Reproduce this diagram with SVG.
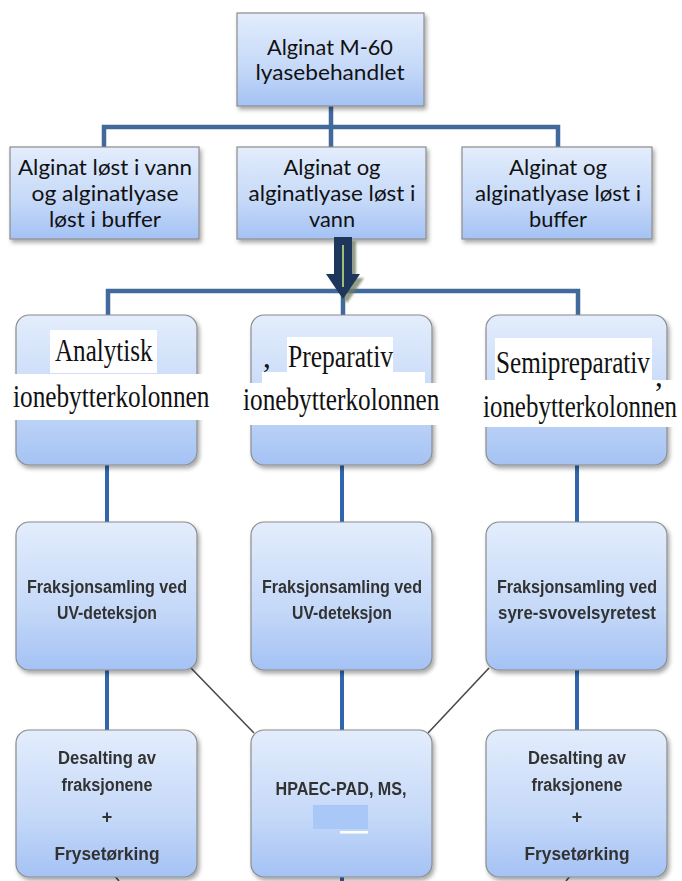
<svg xmlns="http://www.w3.org/2000/svg" width="682" height="881" viewBox="0 0 682 881">
  <defs>
    <linearGradient id="boxFill" x1="0" y1="0" x2="0" y2="1">
      <stop offset="0" stop-color="#e3edfc"/>
      <stop offset="0.6" stop-color="#c4d8f8"/>
      <stop offset="1" stop-color="#a4c2f4"/>
    </linearGradient>
    <filter id="shadow" x="-10%" y="-10%" width="125%" height="125%">
      <feDropShadow dx="2" dy="3" stdDeviation="2" flood-color="#000" flood-opacity="0.35"/>
    </filter>
    <filter id="soft" x="-5%" y="-20%" width="110%" height="140%">
      <feGaussianBlur stdDeviation="0.45"/>
    </filter>
    <filter id="arrowShadow" x="-30%" y="-30%" width="160%" height="160%">
      <feGaussianBlur stdDeviation="1.2"/>
    </filter>
  </defs>
  <style>
    .box { fill: url(#boxFill); stroke: #8c8c8c; stroke-width: 1.2; filter: url(#shadow); }
    .lbl { font-family: Lato, "Liberation Sans", sans-serif; font-size: 21px; fill: #111; text-anchor: middle; }
    .col { font-family: "Liberation Serif", serif; font-size: 31px; fill: #111; }
    .small { font-family: "Liberation Sans", sans-serif; font-size: 18px; font-weight: bold; fill: #333; text-anchor: middle; filter: url(#soft); }
    .tree { fill: none; stroke: #41699b; stroke-width: 4.5; }
    .vline { fill: none; stroke: #2f66ad; stroke-width: 4; }
    .diag { fill: none; stroke: #4a4a4a; stroke-width: 1.6; }
    .white { fill: #fff; }
  </style>

  <!-- connectors -->
  <g id="connectors">
    <path class="tree" d="M331 106 V147 M104 147 V127 H558 V147"/>
    <path class="tree" d="M108 315 V291 H578 V315 M343 291 V315" stroke="#3d6da8"/>
    <path class="vline" d="M107 465 V522 M342 465 V522 M577 465 V522"/>
    <path class="vline" d="M107 670 V730 M342 670 V730 M577 670 V730"/>
    <path class="diag" d="M190 667 L254 733 M489 668 L428 733"/>
    <path class="diag" d="M113 874 L119 881 M571 875 L566 881"/>
    <path class="vline" d="M342 877 V881" stroke-width="2"/>
  </g>

  <!-- level 1 -->
  <g id="n-top">
    <rect class="box" x="237" y="13" width="187" height="93"/>
    <text class="lbl" x="330" y="55" font-size="22" textLength="126" lengthAdjust="spacingAndGlyphs">Alginat M-60</text>
    <text class="lbl" x="330" y="80" font-size="22" textLength="149" lengthAdjust="spacingAndGlyphs">lyasebehandlet</text>
  </g>

  <!-- level 2 -->
  <g id="n-vann-buffer">
    <rect class="box" x="10" y="147" width="189" height="92"/>
    <text class="lbl" x="105" y="175" textLength="174" lengthAdjust="spacingAndGlyphs">Alginat løst i vann</text>
    <text class="lbl" x="105" y="201" textLength="147" lengthAdjust="spacingAndGlyphs">og alginatlyase</text>
    <text class="lbl" x="105" y="227" textLength="112" lengthAdjust="spacingAndGlyphs">løst i buffer</text>
  </g>
  <g id="n-vann">
    <rect class="box" x="237" y="147" width="189" height="92"/>
    <text class="lbl" x="332" y="175" textLength="97" lengthAdjust="spacingAndGlyphs">Alginat og</text>
    <text class="lbl" x="332" y="201" textLength="167" lengthAdjust="spacingAndGlyphs">alginatlyase løst i</text>
    <text class="lbl" x="332" y="227" textLength="46" lengthAdjust="spacingAndGlyphs">vann</text>
  </g>
  <g id="n-buffer">
    <rect class="box" x="462" y="147" width="190" height="92"/>
    <text class="lbl" x="558" y="175" textLength="98" lengthAdjust="spacingAndGlyphs">Alginat og</text>
    <text class="lbl" x="558" y="201" textLength="166" lengthAdjust="spacingAndGlyphs">alginatlyase løst i</text>
    <text class="lbl" x="558" y="227" textLength="58" lengthAdjust="spacingAndGlyphs">buffer</text>
  </g>

  <!-- block arrow -->
  <g id="arrow">
    <polygon points="338,241 356,241 356,278 364,278 347,303 330,278 338,278" fill="#6f7d5f" opacity="0.75" filter="url(#arrowShadow)"/>
    <polygon points="334,237 352,237 352,274 360,274 343,299 326,274 334,274" fill="#1c365c"/>
    <line x1="343" y1="245" x2="343" y2="287" stroke="#c5e07a" stroke-width="1.6"/>
  </g>

  <!-- level 3: serif labels are squeezed horizontally with scale() -->
  <g id="n-analytisk">
    <rect class="box" x="16" y="315" width="181" height="150" rx="13"/>
    <rect class="white" x="50" y="330" width="107" height="43"/>
    <rect class="white" x="12" y="374" width="202" height="46"/>
    <text class="col" transform="translate(55 361) scale(0.81 1)">Analytisk</text>
    <text class="col" transform="translate(13 407) scale(0.815 1)">ionebytterkolonnen</text>
  </g>
  <g id="n-preparativ">
    <rect class="box" x="251" y="315" width="181" height="150" rx="13"/>
    <rect class="white" x="287" y="337" width="106" height="36"/>
    <rect class="white" x="262" y="372" width="163" height="12"/>
    <rect class="white" x="240" y="383" width="203" height="42"/>
    <text class="col" x="263" y="367" font-size="14">,</text>
    <text class="col" transform="translate(288 367) scale(0.825 1)">Preparativ</text>
    <text class="col" transform="translate(243 410) scale(0.815 1)">ionebytterkolonnen</text>
  </g>
  <g id="n-semipreparativ">
    <rect class="box" x="486" y="315" width="181" height="150" rx="13"/>
    <rect class="white" x="495" y="338" width="157" height="42"/>
    <rect class="white" x="483" y="380" width="199" height="47"/>
    <text class="col" transform="translate(496 373) scale(0.813 1)">Semipreparativ</text>
    <text class="col" x="655" y="386" font-size="12">,</text>
    <text class="col" transform="translate(483 417) scale(0.805 1)">ionebytterkolonnen</text>
  </g>

  <!-- level 4 -->
  <g id="n-uv-1">
    <rect class="box" x="16" y="522" width="181" height="148" rx="13"/>
    <text class="small" x="107" y="593" textLength="160" lengthAdjust="spacingAndGlyphs">Fraksjonsamling ved</text>
    <text class="small" x="107" y="619" textLength="100" lengthAdjust="spacingAndGlyphs">UV-deteksjon</text>
  </g>
  <g id="n-uv-2">
    <rect class="box" x="251" y="522" width="181" height="148" rx="13"/>
    <text class="small" x="342" y="593" textLength="160" lengthAdjust="spacingAndGlyphs">Fraksjonsamling ved</text>
    <text class="small" x="342" y="619" textLength="100" lengthAdjust="spacingAndGlyphs">UV-deteksjon</text>
  </g>
  <g id="n-syre">
    <rect class="box" x="486" y="522" width="181" height="148" rx="13"/>
    <text class="small" x="577" y="593" textLength="160" lengthAdjust="spacingAndGlyphs">Fraksjonsamling ved</text>
    <text class="small" x="577" y="619" textLength="158" lengthAdjust="spacingAndGlyphs">syre-svovelsyretest</text>
  </g>

  <!-- level 5 -->
  <g id="n-desalting-1">
    <rect class="box" x="16" y="730" width="181" height="147" rx="13"/>
    <text class="small" x="107" y="764" textLength="98" lengthAdjust="spacingAndGlyphs">Desalting av</text>
    <text class="small" x="107" y="791" textLength="91" lengthAdjust="spacingAndGlyphs">fraksjonene</text>
    <text class="small" x="107" y="823">+</text>
    <text class="small" x="107" y="860" textLength="105" lengthAdjust="spacingAndGlyphs">Frysetørking</text>
  </g>
  <g id="n-hpaec">
    <rect class="box" x="251" y="730" width="181" height="147" rx="13"/>
    <text class="small" x="341" y="795" textLength="131" lengthAdjust="spacingAndGlyphs">HPAEC-PAD, MS,</text>
    <rect x="313" y="805" width="55" height="24" fill="#a9c7f7"/>
    <rect x="340" y="831" width="28" height="2.5" fill="#fff"/>
  </g>
  <g id="n-desalting-2">
    <rect class="box" x="486" y="730" width="181" height="147" rx="13"/>
    <text class="small" x="577" y="764" textLength="98" lengthAdjust="spacingAndGlyphs">Desalting av</text>
    <text class="small" x="577" y="791" textLength="91" lengthAdjust="spacingAndGlyphs">fraksjonene</text>
    <text class="small" x="577" y="823">+</text>
    <text class="small" x="577" y="860" textLength="105" lengthAdjust="spacingAndGlyphs">Frysetørking</text>
  </g>
</svg>
